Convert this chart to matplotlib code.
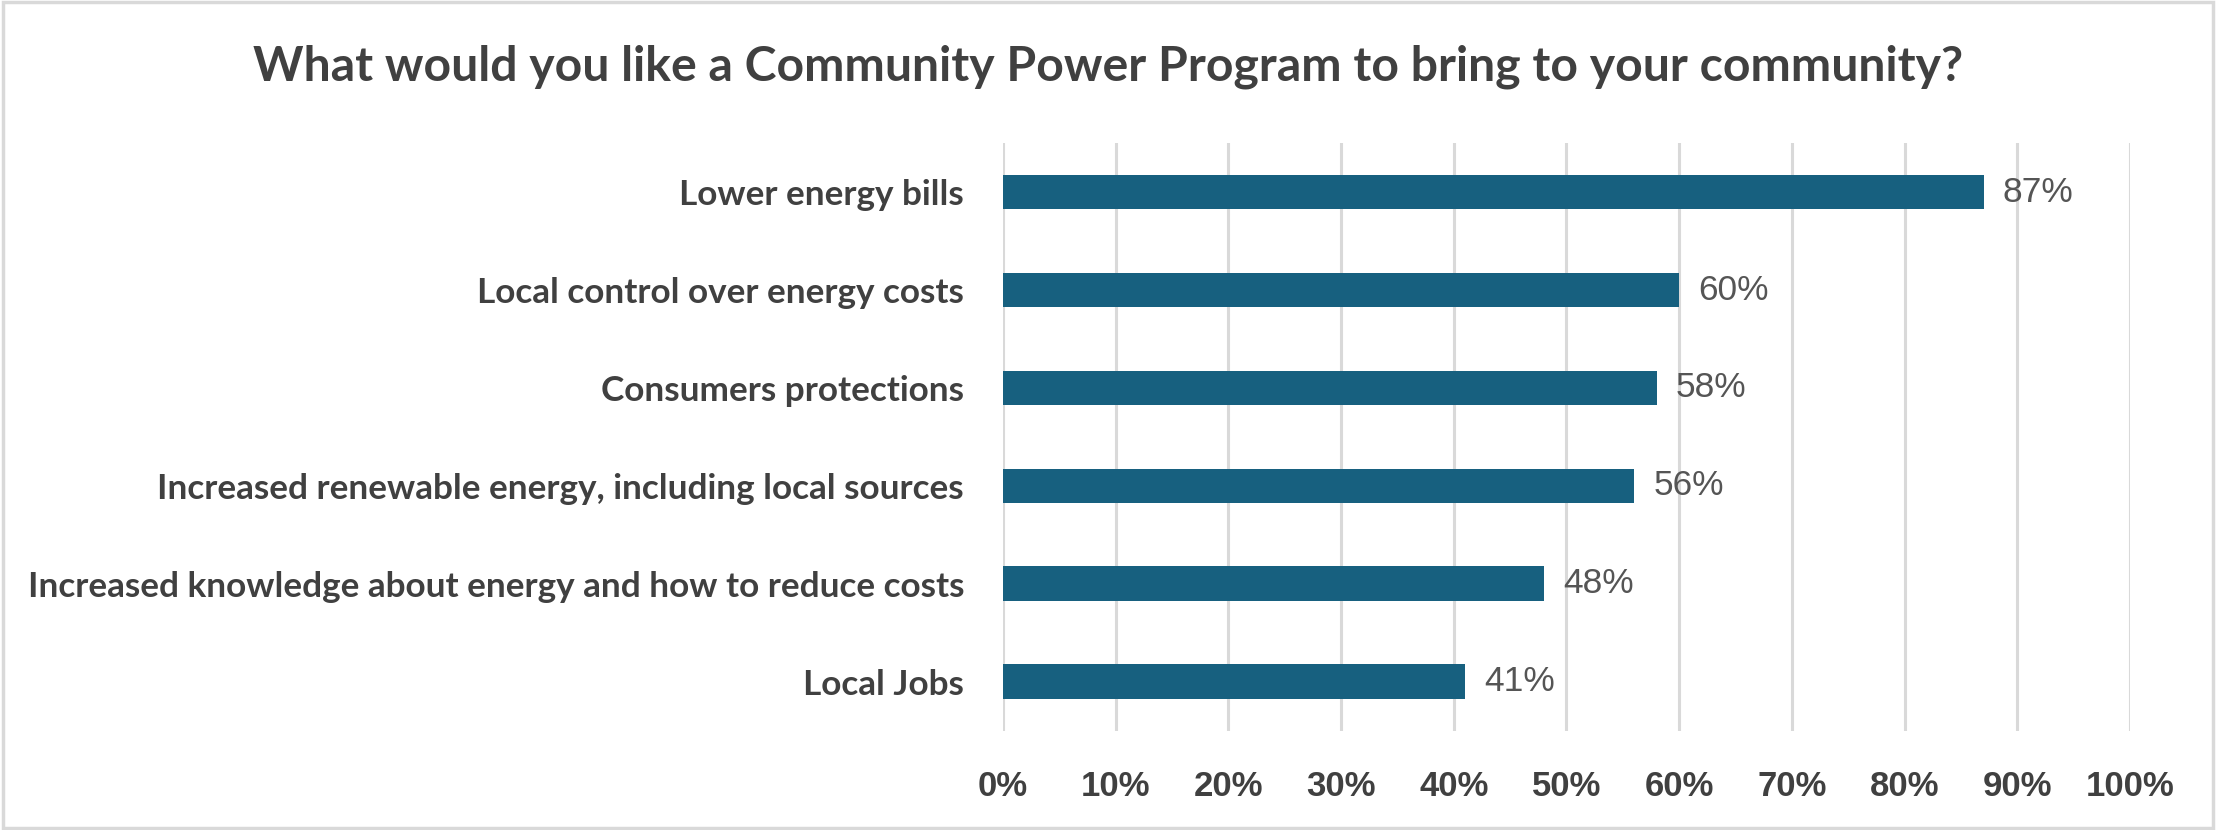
"""
Community Power Program survey: what respondents would like it to bring.
Horizontal bar chart, share of respondents (%).
"""
import matplotlib
matplotlib.use("Agg")
import matplotlib.pyplot as plt
from matplotlib.patches import Rectangle

categories = [
    "Lower energy bills",
    "Local control over energy costs",
    "Consumers protections",
    "Increased renewable energy, including local sources",
    "Increased knowledge about energy and how to reduce costs",
    "Local Jobs",
]
values = [87, 60, 58, 56, 48, 41]
ticks = list(range(0, 101, 10))
tick_labels = [f"{t}%" for t in ticks]

BAR = "#17607f"
TEXT = "#404040"
GRID = "#d9d9d9"

fig = plt.figure(figsize=(22.16, 8.30), dpi=100)
ax = fig.add_axes([0.4526, 0.1193, 0.5086, 0.7084])

ypos = list(range(len(categories)))
ax.barh(ypos, values, height=0.357, color=BAR, zorder=3)
ax.set_ylim(len(categories) - 0.5, -0.5)
ax.set_xlim(0, 100)

for y, v in zip(ypos, values):
    ax.annotate(f"{v}%", (v, y), textcoords="offset points", xytext=(14, 0),
                va="center", ha="left", fontsize=25.5, color="#555555",
                family="Liberation Sans")

ax.set_xticks(ticks)
ax.set_xticklabels(tick_labels, fontsize=25, fontweight="bold", color=TEXT,
                   family="Liberation Sans")
ax.set_yticks(ypos)
ax.set_yticklabels(categories, fontsize=25.3, fontweight="bold", color=TEXT,
                   family="Lato")
ax.tick_params(axis="x", length=0, pad=28)
ax.tick_params(axis="y", length=0, pad=28)
ax.grid(axis="x", color=GRID, lw=2.2, zorder=0)
for s in ax.spines.values():
    s.set_visible(False)

fig.text(0.5, 0.919, "What would you like a Community Power Program to bring to your community?",
         ha="center", va="center", fontsize=34.7, fontweight="bold", color=TEXT,
         family="Lato")

# light frame round the chart area
fig.patches.append(Rectangle((0.0015, 0.0025), 0.997, 0.995, transform=fig.transFigure,
                             fill=False, edgecolor=GRID, lw=2.5))

fig.savefig("out.png", dpi=100)
